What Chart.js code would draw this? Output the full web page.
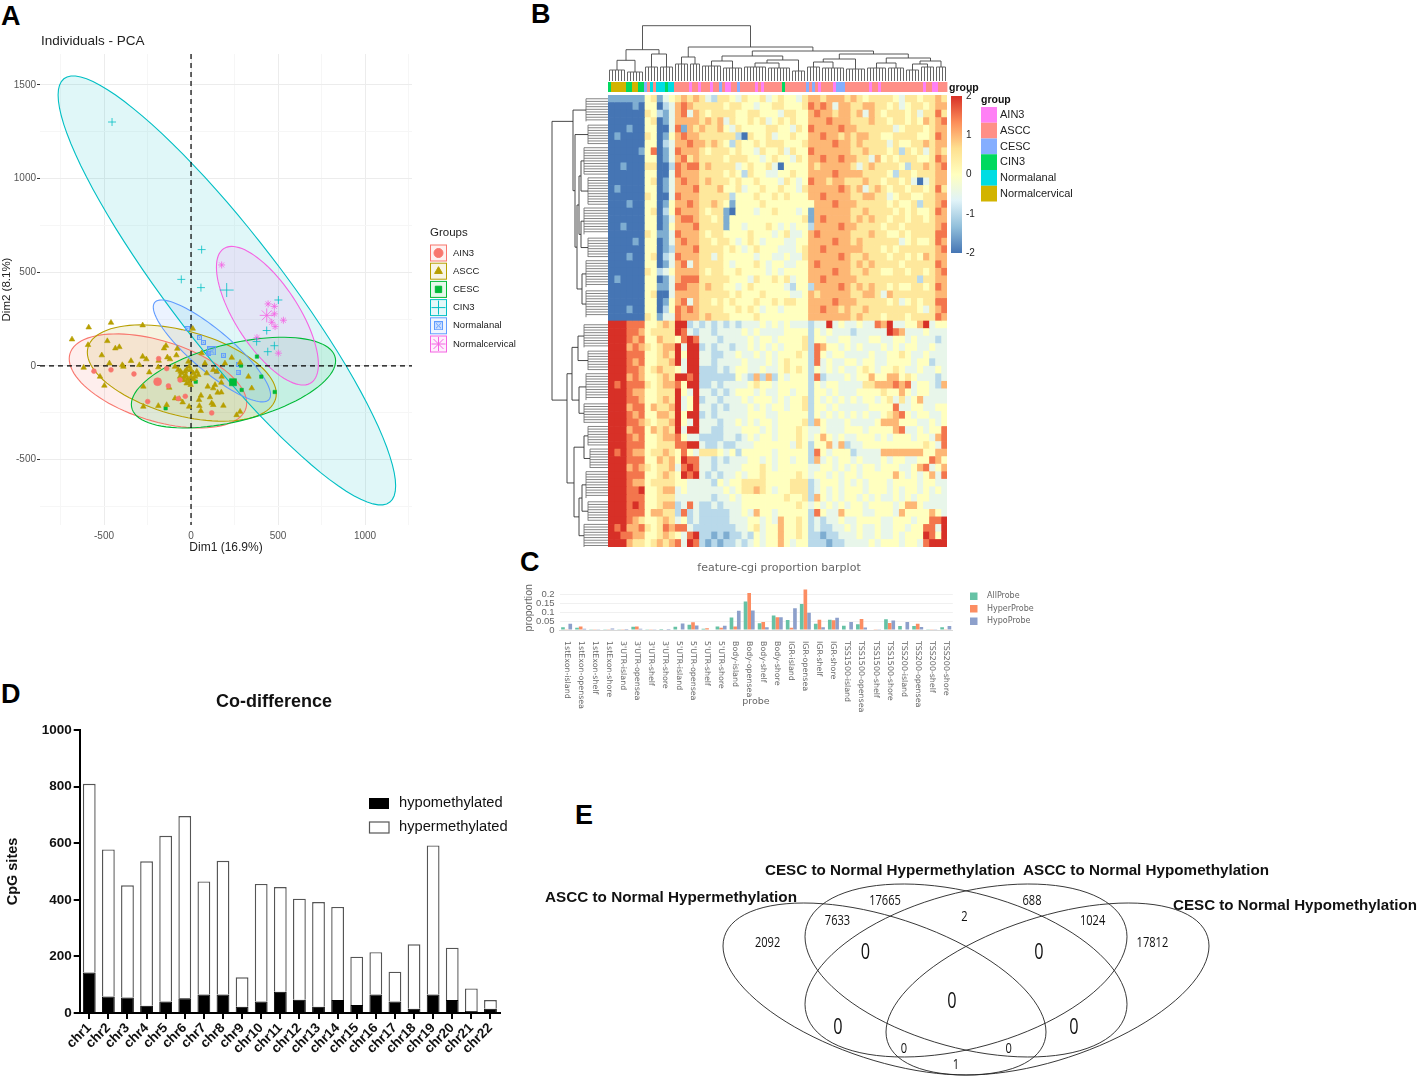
<!DOCTYPE html>
<html>
<head>
<meta charset="utf-8">
<title>Methylation figure</title>
<script src="https://cdn.jsdelivr.net/npm/chart.js@4/dist/chart.umd.min.js"></script>
<style>
  body { margin: 0; background: #fff; width: 1417px; height: 1078px; position: relative; overflow: hidden; font-family: "Liberation Sans", Arial, sans-serif; }
  canvas { position: absolute; }
  .letter { position: absolute; font-weight: bold; font-size: 27px; line-height: 27px; color: #000; }
</style>
</head>
<body>
<div class="letter" style="left:1px;top:3px">A</div>
<div class="letter" style="left:531px;top:1px">B</div>
<div class="letter" style="left:520px;top:549px">C</div>
<div class="letter" style="left:1px;top:681px">D</div>
<div class="letter" style="left:575px;top:802px">E</div>
<canvas id="pca" width="530" height="560" style="left:0;top:0"></canvas>
<canvas id="heat" width="550" height="560" style="left:540px;top:0"></canvas>
<canvas id="probe" width="530" height="160" style="left:515px;top:555px"></canvas>
<canvas id="chrom" width="530" height="398" style="left:0;top:680px"></canvas>
<canvas id="venn" width="877" height="278" style="left:540px;top:800px"></canvas>
<script>
// PANEL A - PCA individuals
const groupNames = ['AIN3', 'ASCC', 'CESC', 'CIN3', 'Normalanal', 'Normalcervical'];
const groupColors = ['#F8766D', '#B79F00', '#00BA38', '#00BFC4', '#619CFF', '#F564E3'];
const groupStyles = ['circle', 'triangle', 'rect', 'cross', 'rect', 'star'];

// the last point of each group is its mean (drawn bigger)
const ain3Points = [[-558,-28],[-460,-21],[-328,-43],[-186,39],[-130,-107],[-63,-75],[-33,-162],[-73,-174],[-249,-190],[119,-251],[-140,-14],[-192,-84]];
const asccPoints = [[-684,142],[-588,206],[-460,231],[-278,217],[-481,133],[-513,57],[-435,94],[-412,101],[-592,112],[-617,-9],[-469,14],[-523,-57],[-498,-105],[-395,5],[-389,-4],[-345,27],[-297,5],[-278,50],[-257,36],[-240,-34],[-186,28],[-188,-7],[-155,94],[-144,108],[-136,46],[-121,36],[-84,57],[-79,92],[-92,-4],[-73,-21],[-54,-39],[-34,-30],[-15,23],[-10,-4],[-2,-21],[13,-39],[33,-30],[-63,-57],[-44,-75],[-25,-93],[-2,-101],[23,-57],[42,-48],[90,-39],[80,14],[61,68],[10,199],[-125,-116],[-274,-110],[-274,-217],[-188,-213],[-140,-208],[-92,-173],[-67,-176],[-48,-194],[-11,-217],[46,-181],[57,-158],[48,-213],[56,-240],[109,-167],[128,-119],[138,-101],[153,-142],[174,-141],[174,-89],[186,-212],[119,-199],[128,-208],[262,-262],[282,-244],[349,-119],[330,-57],[234,44],[282,18],[195,14],[148,-30],[128,-21],[176,-57],[96,-110],[-40,-60],[-20,-70],[-30,-50],[0,-60],[-50,-75],[-10,-85],[15,-70],[-60,-30],[-25,-20]];
const cescPoints = [[27,-84],[379,50],[404,-57],[481,-139],[291,-128],[287,2],[-146,-226],[241,-87]];
const cin3Points = [[-454,1302],[61,621],[-56,462],[57,418],[502,352],[435,189],[377,130],[441,76],[479,108],[205,405]];
const analPoints = [[-19,199],[48,151],[71,126],[103,68],[186,57],[270,-34],[148,-30],[272,9],[119,80]];
const cervPoints = [[176,539],[443,331],[479,318],[479,278],[531,244],[464,233],[483,210],[379,151],[502,68],[435,270]];
const groupPoints = [ain3Points, asccPoints, cescPoints, cin3Points, analPoints, cervPoints];

// confidence ellipses: centre, half width, half height, correlation
const ellipseCx = [-190, -53, 244, 206, 120, 439];
const ellipseCy = [-80, -38, -89, 403, 80, 268];
const ellipseRx = [510, 543, 587, 970, 337, 293];
const ellipseRy = [251, 257, 242, 1145, 272, 370];
const ellipseRho = [-0.47, -0.43, 0.48, -0.911, -0.86, -0.70];

const pcaXTicks = [-750, -500, -250, 0, 250, 500, 750, 1000, 1250];
const pcaYTicks = [-750, -500, -250, 0, 250, 500, 750, 1000, 1250, 1500];

// PANEL B - heatmap. digit 0..8 = -2..2, rows top to bottom
const heatRows = [
"111111 45 1 3 4 5656 5325 54354453454435 6656665 65455 554355455 65",
"000010 44 0 2 3 6765 5555 45544344554445 7676366 55665 545345545 66",
"000000 54 2 1 3 6736 5455 55445544435544 6766566 56365 455545355 75",
"000000 45 0 1 3 6666 5656 35445453454544 6667666 55565 545545465 67",
"000100 44 0 0 3 7165 6556 43544445544354 7666676 65555 553455545 66",
"010000 54 0 1 4 6766 5555 55205445344544 6676656 56655 445555445 76",
"000000 44 0 2 3 6676 6565 42544545554445 6666766 56555 535445565 66",
"000001 47 0 1 3 7666 5455 54544354453544 7666666 55655 545254535 65",
"000000 44 0 1 3 6756 5555 45554434544354 6676676 65536 454555445 76",
"001000 55 0 0 2 7677 5655 55345445304444 6566666 53565 555425565 67",
"000000 44 0 0 3 7666 5555 45425443344544 6666766 66555 542554555 66",
"000000 45 0 1 3 6766 5655 54544544435434 7665665 55655 455453035 66",
"010000 44 0 1 3 6667 5556 44534454454435 6666676 56356 545545545 75",
"000000 54 0 0 3 7666 5555 52444544545444 6676666 55665 534554455 66",
"000100 44 0 1 4 6676 5565 41444454444444 4666766 65555 545445255 67",
"000000 45 0 2 4 7666 5455 10444344544434 1666666 55655 554545445 76",
"000000 44 0 1 3 6776 5545 14444444444445 1676666 56565 545545545 66",
"001000 44 0 1 4 6667 5555 14434445434344 2666676 65555 455455555 67",
"000000 54 1 1 3 7666 5455 44445444345334 6766666 55565 544545555 77",
"000010 44 0 1 3 6766 5545 54345434443344 6666766 56555 555345445 76",
"000000 44 0 1 2 6667 5555 45434544433345 6676666 66555 454555555 67",
"000100 45 0 2 3 7666 5535 44444344334335 6666676 55655 545545465 66",
"000000 44 0 1 3 6736 5555 43444543443344 6766666 56565 555455555 76",
"000000 54 2 3 4 6666 5455 44544443434444 6666766 55655 445545545 67",
"010000 44 0 1 3 6777 5555 54443544545344 6676666 65555 555555255 66",
"000000 44 1 1 3 7766 5655 44345444443244 2666676 56565 545445545 76",
"000000 45 0 0 3 6666 5555 54544454444334 6566666 55665 365555555 66",
"000000 44 0 1 4 6736 5545 45444544545544 6666766 65555 545345455 77",
"000100 44 0 2 4 7676 5555 44545434434444 6676656 55655 555555435 67",
"000000 54 1 3 3 7666 5655 54444544444444 6666666 56555 455545555 76",
"888 777 44 565 8823 23232 3233343434333 23383433433 768334468344",
"888 776 45 555 8732 33233 3343433334444 24343332333 338763334333",
"888 767 44 655 4787 33323 3334344344445 24433443334 433443433323",
"888 676 54 566 8388 23233 2334343434445 27644343433 343434433433",
"888 777 44 565 8488 33223 3433434344454 27434433334 334454334333",
"888 767 44 556 8388 33233 3343334345444 27343344344 334444344233",
"888 776 45 655 4388 22232 3443343345454 24343433454 344543343343",
"888 676 44 565 8878 22222 2432626243444 27233343446 446645433323",
"878 777 54 566 7488 22323 3334544344444 24344333355 666767344326",
"888 766 44 555 8438 33232 3444343344344 24434333444 454464344333",
"888 776 44 565 8348 23323 3343444343445 24343434344 345353463333",
"888 677 46 556 8348 33232 3334343443445 24434333334 444733443344",
"888 767 44 665 8488 23233 3334443344444 24343434343 345674344334",
"888 776 54 556 8438 33323 3434344344445 26433343333 466644433434",
"888 677 46 565 8388 33223 3344434344454 33433344434 444673343447",
"888 767 44 566 7433 22223 3234344344454 34643433444 343444344367",
"888 777 44 555 7788 32232 2333444444354 24463623344 444444445437",
"878 766 45 565 4743 55543 4244444344444 27434442333 366666664466",
"888 777 44 656 4877 33232 3334434344344 26343443433 343443344764",
"888 676 54 556 3787 33233 3344454344444 33443434344 344433467346",
"888 777 44 565 4878 32323 3434454444454 34434344344 444643434637",
"888 766 45 555 4433 33243 4455554444555 23444343434 443444434433",
"888 778 44 566 3433 33334 3455654344555 23434344434 443434434343",
"888 777 44 555 3333 33233 4344444445445 26434344343 433434344333",
"888 787 44 566 2373 22323 3344444444454 34343434434 444346643333",
"888 777 46 655 2723 22222 3343644344444 27433644433 444364444643",
"888 765 44 565 3423 22222 3334434364454 23233433444 433444344778",
"878 667 54 576 7732 22222 2334534464454 23223343433 433443447738",
"887 766 44 565 4378 22121 2232434464454 22122333433 433434448748",
"888 655 45 656 7387 21212 2323434464344 22212233334 344434437888"
].map(r => r.replace(/ /g, ''));
const heatRamp = ['#4575B4', '#91BFDB', '#E0F3F8', '#FFFFBF', '#FEE090', '#FC8D59', '#D73027'];

// a=AIN3 s=ASCC e=CESC c=CIN3 n=Normalanal g=Normalcervical, one letter per sample
const sampleGroups = 'cgggggccggccesnsnnncnnsssssassasssassesaassesssssasassssssc' + 'sssssssesesassssaeeessssssssassassssssssssssssassaas'.slice(0, 54);
const sampleLetters = ['a', 's', 'e', 'c', 'n', 'g'];
const annotationColors = ['#FF80F5', '#FF8F87', '#85AEFF', '#00D95F', '#00DDE3', '#D2B400'];
const sampleCount = 113;

// top tree: leaf groups [from, to, height] and merges [x1, x2, height, drop1, drop2]
const topLeafGroups = [[0,5,11],[6,11,9],[12,16,14],[17,21,14],[22,26,17],[27,30,17],[31,37,15],[38,44,13],[45,52,14],[53,60,13],[61,65,10],[66,70,14],[71,78,13],[79,85,12],[86,92,13],[93,98,13],[99,103,11],[104,108,14],[109,112,14]];
const topMerges = [[2.5,8.5,20.7,11,9],[14,19,27,14,14],[5.5,16.5,31.3,20.7,27],[24,28.5,24,17,17],[34,41,20,15,13],[48.5,56.5,18,14,13],[52.5,63,21,18,10],[37.5,57.75,25,20,21],[68,74.5,19,14,13],[71.25,82,22,19,12],[89,95.5,18,13,13],[101,106,17,11,14],[103.5,110.5,20,17,14],[92.25,107,23,18,20],[76.6,99.6,27,22,23],[47.6,88,30,25,27],[26.25,67.8,34,24,30],[11,47,55.3,31.3,34]];

// left tree, same idea in heat rows
const leftLeafGroups = [[0,3,22],[3.5,6,20],[6.5,10,24],[10.5,14,20],[14.5,18,24],[18.5,21,20],[21.5,25,22],[25.5,29,22],[30,33,24],[33.5,36,20],[36.5,40,22],[40.5,43,24],[43.5,46,20],[46.5,49,18],[49.5,53,22],[53.5,56,20],[56.5,59.5,24]];
const leftMerges = [[23.25,27.25,26,22,22],[16.25,19.75,27,24,20],[8.25,12.25,27,24,20],[10.25,18,29,27,27],[14.1,25.25,31,29,26],[4.75,19.7,33,20,31],[1.5,12.2,35,22,33],[31.5,34.75,30,24,20],[38.25,41.75,29,22,24],[33,40,36,30,29],[44.75,47.75,24,20,18],[51.25,54.75,26,22,20],[53,58,29,26,24],[46.25,55.5,34,24,29],[36.5,51,41,36,34],[3,40,56,35,41]];
const colorbarLabels = ['2', '1', '0', '-1', '-2'];

// PANEL C - probe proportions
const probeCategories = ['1stExon-island','1stExon-opensea','1stExon-shelf','1stExon-shore',"3'UTR-island","3'UTR-opensea","3'UTR-shelf","3'UTR-shore","5'UTR-island","5'UTR-opensea","5'UTR-shelf","5'UTR-shore",'Body-island','Body-opensea','Body-shelf','Body-shore','IGR-island','IGR-opensea','IGR-shelf','IGR-shore','TSS1500-island','TSS1500-opensea','TSS1500-shelf','TSS1500-shore','TSS200-island','TSS200-opensea','TSS200-shelf','TSS200-shore'];
const allProbe = [.015,.012,.002,.004,.001,.018,.002,.006,.018,.03,.007,.02,.07,.16,.038,.082,.056,.146,.035,.058,.024,.033,.003,.06,.023,.022,.002,.015];
const hyperProbe = [.002,.02,.001,.002,.001,.02,.001,.003,.003,.043,.01,.012,.02,.208,.045,.072,.013,.228,.058,.055,.003,.062,.004,.04,.003,.035,.001,.004];
const hypoProbe = [.035,.007,.001,.008,.006,.007,.002,.006,.036,.026,.003,.024,.108,.11,.015,.072,.122,.097,.015,.069,.045,.014,.002,.053,.045,.017,.001,.022];
const probeTicks = [0, 0.05, 0.1, 0.15, 0.2];
const probeSeries = ['AllProbe', 'HyperProbe', 'HypoProbe'];
const probeColors = ['#66C2A5', '#FC8D62', '#8DA0CB'];

// PANEL D - CpG sites per chromosome
const chromosomes = ['chr1','chr2','chr3','chr4','chr5','chr6','chr7','chr8','chr9','chr10','chr11','chr12','chr13','chr14','chr15','chr16','chr17','chr18','chr19','chr20','chr21','chr22'];
const hypomethylated = [143,58,55,26,41,52,65,65,22,41,75,47,22,46,28,65,41,15,65,46,7,15];
const hypermethylated = [667,520,396,510,585,644,400,473,104,415,370,357,370,329,171,150,105,228,527,185,80,31];

// PANEL E - venn, in picture coordinates
const vennCx = [884.5, 966, 966, 1047.5];
const vennCy = [989, 970.5, 970.5, 989];
const vennRx = [161.5, 161, 161, 161.5];
const vennRy = [86, 86.5, 86.5, 86];
const vennRho = [0.5, 0.39, -0.39, -0.5];
const vennCounts = ['2092','7633','17665','2','688','1024','17812','0','0','0','0','0','0','0','1'];
const vennCountX = [767.6,837.5,885,964.5,1032,1092.6,1152.4,865.5,1039,952,838,1074,904,1008.7,956];
const vennCountY = [942.7,921,901,917,901,921,942.7,952.7,952.7,1002,1028,1028,1049,1049,1065];
const vennCountSize = [15,15,15,15,15,15,15,22,22,22,22,22,15,15,15];
const vennTitles = ['ASCC to Normal Hypermethylation','CESC to Normal Hypermethylation','ASCC to Normal Hypomethylation','CESC to Normal Hypomethylation'];
const vennTitleX = [545, 765, 1023, 1173];
const vennTitleY = [898, 871, 871, 906];
const vennTitleW = [252, 250, 246, 244];

Chart.defaults.animation = false;
Chart.defaults.font.family = '"Liberation Sans", Arial, sans-serif';
Chart.defaults.plugins.legend.display = false;
Chart.defaults.plugins.tooltip.enabled = false;

function label(ctx, s, x, y, font, color, align) {
  ctx.save();
  ctx.font = font;
  ctx.fillStyle = color;
  ctx.textAlign = align || 'left';
  ctx.textBaseline = 'middle';
  ctx.fillText(s, x, y);
  ctx.restore();
}

function ellipsePath(ctx, xs, ys, cx, cy, rx, ry, rho) {
  const s = Math.sqrt(1 - rho * rho);
  ctx.beginPath();
  for (let i = 0; i <= 96; i++) {
    const t = i / 96 * Math.PI * 2;
    const px = xs.getPixelForValue(cx + rx * Math.cos(t));
    const py = ys.getPixelForValue(cy + ry * (rho * Math.cos(t) + s * Math.sin(t)));
    if (i === 0) ctx.moveTo(px, py); else ctx.lineTo(px, py);
  }
  ctx.closePath();
}

function alpha(hex, a) {
  const n = parseInt(hex.slice(1), 16);
  return `rgba(${n >> 16},${(n >> 8) & 255},${n & 255},${a})`;
}

function heatColor(d) {
  const pos = d / 8 * (heatRamp.length - 1);
  const i = Math.min(Math.floor(pos), heatRamp.length - 2);
  const f = pos - i;
  const a = parseInt(heatRamp[i].slice(1), 16), b = parseInt(heatRamp[i + 1].slice(1), 16);
  const mix = sh => Math.round(((a >> sh) & 255) * (1 - f) + ((b >> sh) & 255) * f);
  return `rgb(${mix(16)},${mix(8)},${mix(0)})`;
}

// boxed x marker of the Normalanal group
function boxMarker(size) {
  const c = document.createElement('canvas');
  c.width = c.height = size;
  const g = c.getContext('2d');
  g.strokeStyle = groupColors[4];
  g.fillStyle = alpha(groupColors[4], 0.25);
  g.lineWidth = 1;
  g.fillRect(0.5, 0.5, size - 1, size - 1);
  g.strokeRect(0.5, 0.5, size - 1, size - 1);
  g.beginPath();
  g.moveTo(2, 2); g.lineTo(size - 2, size - 2);
  g.moveTo(size - 2, 2); g.lineTo(2, size - 2);
  g.stroke();
  return c;
}
const smallBox = boxMarker(5), bigBox = boxMarker(9);

// PCA
new Chart(document.getElementById('pca'), {
  type: 'scatter',
  data: {
    datasets: groupNames.map((name, g) => ({
      label: name,
      data: groupPoints[g].map(p => ({ x: p[0], y: p[1] })),
      pointStyle: g === 4 ? (c => c.dataIndex === analPoints.length - 1 ? bigBox : smallBox) : groupStyles[g],
      borderColor: groupColors[g],
      borderWidth: g === 3 || g === 5 ? 0.8 : 0.6,
      backgroundColor: groupColors[g],
      pointRadius: c => {
        const big = c.dataIndex === groupPoints[g].length - 1 && g !== 1;
        if (g === 1) return 3.2;
        if (g === 3) return big ? 7 : 4;
        if (g === 5) return big ? 7 : 3.5;
        return big ? (g === 0 ? 4 : 5) : 2.4;
      }
    }))
  },
  options: {
    responsive: false,
    layout: { padding: { top: 54, right: 118 } },
    scales: {
      x: {
        type: 'linear', min: -868, max: 1270,
        afterBuildTicks: s => { s.ticks = pcaXTicks.map(value => ({ value })); },
        afterFit: s => { s.height = 35; },
        grid: { color: c => c.tick.value % 500 === 0 ? '#ececec' : '#f6f6f6', tickColor: 'transparent', tickLength: 3 },
        border: { display: false },
        ticks: { autoSkip: false, maxRotation: 0, color: '#555', font: { size: 10 }, padding: 2,
          callback: v => v % 500 === 0 ? String(v) : '' },
        title: { display: true, text: 'Dim1 (16.9%)', color: '#222', font: { size: 12 }, padding: { top: 0, bottom: 5 } }
      },
      y: {
        type: 'linear', min: -849, max: 1665,
        afterBuildTicks: s => { s.ticks = pcaYTicks.map(value => ({ value })); },
        afterFit: s => { s.width = 40; },
        grid: { color: c => c.tick.value % 500 === 0 ? '#ececec' : '#f6f6f6',
          tickColor: c => c.tick.value % 500 === 0 ? '#333' : 'transparent', tickLength: 3 },
        border: { display: false },
        ticks: { autoSkip: false, color: '#555', font: { size: 10 }, padding: 1,
          callback: v => v % 500 === 0 ? String(v) : '' },
        title: { display: true, text: 'Dim2 (8.1%)', color: '#222', font: { size: 11.5 }, padding: { top: 0, bottom: 0 } }
      }
    }
  },
  plugins: [{
    id: 'pcaExtras',
    beforeDatasetsDraw(chart) {
      const ctx = chart.ctx, xs = chart.scales.x, ys = chart.scales.y, a = chart.chartArea;
      ctx.save();
      groupNames.forEach((name, g) => {
        ellipsePath(ctx, xs, ys, ellipseCx[g], ellipseCy[g], ellipseRx[g], ellipseRy[g], ellipseRho[g]);
        ctx.fillStyle = alpha(groupColors[g], 0.12);
        ctx.fill();
      });
      groupNames.forEach((name, g) => {
        ellipsePath(ctx, xs, ys, ellipseCx[g], ellipseCy[g], ellipseRx[g], ellipseRy[g], ellipseRho[g]);
        ctx.strokeStyle = groupColors[g];
        ctx.lineWidth = 1.1;
        ctx.stroke();
      });
      ctx.strokeStyle = '#000';
      ctx.lineWidth = 1.2;
      ctx.setLineDash([5, 4]);
      ctx.beginPath();
      ctx.moveTo(a.left, ys.getPixelForValue(0));
      ctx.lineTo(a.right, ys.getPixelForValue(0));
      ctx.moveTo(xs.getPixelForValue(0), a.top);
      ctx.lineTo(xs.getPixelForValue(0), a.bottom);
      ctx.stroke();
      ctx.restore();
    },
    afterDraw(chart) {
      const ctx = chart.ctx;
      label(ctx, 'Individuals - PCA', 41, 41, '13.5px "Liberation Sans"', '#222');
      label(ctx, 'Groups', 430, 233, '11.5px "Liberation Sans"', '#222');
      groupNames.forEach((name, g) => {
        const y = 253 + g * 18.2;
        ctx.save();
        ctx.strokeStyle = groupColors[g];
        ctx.fillStyle = alpha(groupColors[g], 0.1);
        ctx.lineWidth = 1;
        ctx.fillRect(430.5, y - 8, 16, 16);
        ctx.strokeRect(430.5, y - 8, 16, 16);
        ctx.fillStyle = groupColors[g];
        if (g === 4) ctx.drawImage(bigBox, 434, y - 4.5);
        else Chart.helpers.drawPoint(ctx, { pointStyle: groupStyles[g], radius: g === 3 || g === 5 ? 7 : 4.5, borderWidth: 0.8, rotation: 0 }, 438.5, y);
        ctx.restore();
        label(ctx, name, 453, y, '9.5px "Liberation Sans"', '#222');
      });
    }
  }]
});

// heatmap, one stacked bar row per heat row
const heatColumns = heatRows[0].length;
new Chart(document.getElementById('heat'), {
  type: 'bar',
  data: {
    labels: heatRows.map((r, i) => i),
    datasets: Array.from({ length: heatColumns }, (_, c) => ({
      data: heatRows.map(() => 1),
      backgroundColor: heatRows.map(r => heatColor(Number(r[c] === undefined ? 4 : r[c]))),
      borderWidth: 0,
      barPercentage: 1,
      categoryPercentage: 1
    }))
  },
  options: {
    indexAxis: 'y',
    responsive: false,
    layout: { padding: { left: 68, right: 143, top: 95, bottom: 13 } },
    scales: {
      x: { type: 'linear', stacked: true, min: 0, max: heatColumns, display: false },
      y: { stacked: true, display: false }
    }
  },
  plugins: [{
    id: 'heatExtras',
    afterDraw(chart) {
      const ctx = chart.ctx, xs = chart.scales.x, ys = chart.scales.y, a = chart.chartArea;
      const sx = i => xs.getPixelForValue(i * heatColumns / sampleCount);
      const topBase = 81, leftBase = a.left;
      ctx.save();
      // annotation strip
      for (let i = 0; i < sampleCount; i++) {
        ctx.fillStyle = annotationColors[sampleLetters.indexOf(sampleGroups[i] || 's')];
        ctx.fillRect(sx(i), 82, sx(i + 1) - sx(i) + 0.4, 10);
      }
      // top tree
      ctx.lineWidth = 1;
      ctx.strokeStyle = '#666';
      ctx.beginPath();
      topLeafGroups.forEach(([from, to, h]) => {
        for (let i = from; i <= to; i++) {
          ctx.moveTo(sx(i + 0.5), topBase);
          ctx.lineTo(sx(i + 0.5), topBase - h);
        }
        ctx.moveTo(sx(from + 0.5), topBase - h);
        ctx.lineTo(sx(to + 0.5), topBase - h);
      });
      ctx.stroke();
      ctx.lineWidth = 0.9;
      ctx.strokeStyle = '#444';
      ctx.beginPath();
      topMerges.forEach(([x1, x2, h, d1, d2]) => {
        ctx.moveTo(sx(x1 + 0.5), topBase - d1);
        ctx.lineTo(sx(x1 + 0.5), topBase - h);
        ctx.lineTo(sx(x2 + 0.5), topBase - h);
        ctx.lineTo(sx(x2 + 0.5), topBase - d2);
      });
      ctx.stroke();
      // left tree
      ctx.lineWidth = 0.9;
      ctx.strokeStyle = '#777';
      ctx.beginPath();
      leftLeafGroups.forEach(([from, to, d]) => {
        for (let r = from; r <= to; r += 0.35) {
          ctx.moveTo(leftBase, ys.getPixelForValue(r));
          ctx.lineTo(leftBase - d, ys.getPixelForValue(r));
        }
        ctx.moveTo(leftBase - d, ys.getPixelForValue(from));
        ctx.lineTo(leftBase - d, ys.getPixelForValue(to));
      });
      ctx.stroke();
      ctx.strokeStyle = '#333';
      ctx.beginPath();
      leftMerges.forEach(([r1, r2, d, d1, d2]) => {
        ctx.moveTo(leftBase - d1, ys.getPixelForValue(r1));
        ctx.lineTo(leftBase - d, ys.getPixelForValue(r1));
        ctx.lineTo(leftBase - d, ys.getPixelForValue(r2));
        ctx.lineTo(leftBase - d2, ys.getPixelForValue(r2));
      });
      ctx.stroke();
      // colour bar, canvas x = page x - 540
      const grad = ctx.createLinearGradient(0, 96, 0, 253);
      heatRamp.slice().reverse().forEach((c, i) => grad.addColorStop(i / (heatRamp.length - 1), c));
      ctx.fillStyle = grad;
      ctx.fillRect(411, 96, 11, 157);
      colorbarLabels.forEach((t, i) => label(ctx, t, 426, 96 + i * 39.25, '10px "Liberation Sans"', '#222'));
      label(ctx, 'group', 409, 88, 'bold 10.5px "Liberation Sans"', '#111');
      label(ctx, 'group', 441, 100, 'bold 10.5px "Liberation Sans"', '#111');
      groupNames.forEach((name, g) => {
        const y = 107 + g * 15.75;
        ctx.fillStyle = annotationColors[g];
        ctx.fillRect(441, y, 16, 15.75);
        label(ctx, name, 460, y + 8, '11px "Liberation Sans"', '#222');
      });
      ctx.restore();
    }
  }]
});

// probe barplot
new Chart(document.getElementById('probe'), {
  type: 'bar',
  data: {
    labels: probeCategories,
    datasets: [allProbe, hyperProbe, hypoProbe].map((vals, s) => ({
      label: probeSeries[s],
      data: vals,
      backgroundColor: probeColors[s],
      barPercentage: 1,
      categoryPercentage: 0.78
    }))
  },
  options: {
    responsive: false,
    layout: { padding: { top: 30.6, right: 92.2 } },
    scales: {
      x: {
        afterFit: s => { s.height = 85; },
        grid: { display: false },
        border: { color: '#d8d8d8' },
        ticks: { display: false }
      },
      y: {
        min: 0, max: 0.25,
        afterBuildTicks: s => { s.ticks = probeTicks.map(value => ({ value })); },
        afterFit: s => { s.width = 44.6; },
        grid: { color: '#f0f0f0', tickColor: 'transparent', tickLength: 3 },
        border: { display: false },
        ticks: { autoSkip: false, color: '#666', font: { size: 9.5 }, padding: 2, callback: v => String(v) },
        title: { display: true, text: 'proportion', color: '#666', font: { size: 10.5 }, padding: { top: 8, bottom: 0 } }
      }
    }
  },
  plugins: [{
    id: 'probeExtras',
    afterDraw(chart) {
      const ctx = chart.ctx, xs = chart.scales.x;
      label(ctx, 'feature-cgi proportion barplot', 264, 13, '11px "DejaVu Sans"', '#666', 'center');
      label(ctx, 'probe', 241, 147, '9.5px "DejaVu Sans"', '#666', 'center');
      probeCategories.forEach((name, i) => {
        ctx.save();
        ctx.translate(xs.getPixelForTick(i), 86);
        ctx.rotate(Math.PI / 2);
        label(ctx, name, 0, 0, '7.9px "DejaVu Sans"', '#666');
        ctx.restore();
      });
      probeSeries.forEach((name, s) => {
        const y = 41 + s * 12.5;
        ctx.fillStyle = probeColors[s];
        ctx.fillRect(455, y - 3.5, 7.5, 7.5);
        label(ctx, name, 472, y, '8px "DejaVu Sans"', '#666');
      });
    }
  }]
});

// CpG sites per chromosome
new Chart(document.getElementById('chrom'), {
  type: 'bar',
  data: {
    labels: chromosomes,
    datasets: [
      { label: 'hypomethylated', data: hypomethylated, backgroundColor: '#000', borderColor: '#000', borderWidth: 1 },
      { label: 'hypermethylated', data: hypermethylated, backgroundColor: '#fff', borderColor: '#555', borderWidth: 1.4 }
    ]
  },
  options: {
    responsive: false,
    datasets: { bar: { barPercentage: 0.67, categoryPercentage: 1 } },
    layout: { padding: { top: 50, right: 30 } },
    scales: {
      x: {
        stacked: true,
        afterFit: s => { s.height = 65; },
        grid: { drawOnChartArea: false, offset: false, color: '#000', lineWidth: 2, tickLength: 6 },
        border: { color: '#000', width: 2 },
        ticks: { autoSkip: false, minRotation: 45, maxRotation: 45, color: '#111', font: { size: 13.5, weight: 'bold' }, padding: 1 }
      },
      y: {
        stacked: true, min: 0, max: 1000,
        afterFit: s => { s.width = 79.7; },
        grid: { drawOnChartArea: false, color: '#000', lineWidth: 2, tickLength: 6 },
        border: { color: '#000', width: 2 },
        ticks: { stepSize: 200, color: '#111', font: { size: 13.5, weight: 'bold' }, padding: 2, callback: v => String(v) },
        title: { display: true, text: 'CpG sites', color: '#111', font: { size: 14.5, weight: 'bold' }, padding: { top: 4, bottom: 0 } }
      }
    }
  },
  plugins: [{
    id: 'chromExtras',
    afterDraw(chart) {
      const ctx = chart.ctx;
      label(ctx, 'Co-difference', 274, 22, 'bold 18px "Liberation Sans"', '#111', 'center');
      ctx.save();
      ctx.fillStyle = '#000';
      ctx.fillRect(369, 118, 20, 11);
      ctx.strokeStyle = '#555';
      ctx.lineWidth = 1.2;
      ctx.strokeRect(369.5, 142, 19.5, 11);
      ctx.restore();
      label(ctx, 'hypomethylated', 399, 123, '14.7px "Liberation Sans"', '#111');
      label(ctx, 'hypermethylated', 399, 147, '14.7px "Liberation Sans"', '#111');
    }
  }]
});

// venn
new Chart(document.getElementById('venn'), {
  type: 'scatter',
  data: {
    datasets: [{
      data: vennCountX.map((x, i) => ({ x, y: vennCountY[i] })),
      pointRadius: 0
    }]
  },
  options: {
    responsive: false,
    scales: {
      x: { type: 'linear', min: 540, max: 1417, display: false },
      y: { type: 'linear', min: 800, max: 1078, reverse: true, display: false }
    }
  },
  plugins: [{
    id: 'vennExtras',
    afterDraw(chart) {
      const ctx = chart.ctx, xs = chart.scales.x, ys = chart.scales.y;
      ctx.save();
      ctx.strokeStyle = '#222';
      ctx.lineWidth = 0.9;
      vennCx.forEach((cx, i) => {
        ellipsePath(ctx, xs, ys, cx, vennCy[i], vennRx[i], vennRy[i], vennRho[i]);
        ctx.stroke();
      });
      ctx.textBaseline = 'middle';
      ctx.fillStyle = '#111';
      ctx.textAlign = 'center';
      vennCounts.forEach((t, i) => {
        ctx.font = vennCountSize[i] + 'px "Open Sans"';
        const w = ctx.measureText(t).width;
        ctx.fillText(t, xs.getPixelForValue(vennCountX[i]), ys.getPixelForValue(vennCountY[i]), w * 0.74);
      });
      ctx.textAlign = 'left';
      ctx.font = 'bold 15.5px "Liberation Sans"';
      vennTitles.forEach((t, i) => {
        ctx.fillText(t, xs.getPixelForValue(vennTitleX[i]), ys.getPixelForValue(vennTitleY[i]), vennTitleW[i]);
      });
      ctx.restore();
    }
  }]
});
</script>
</body>
</html>
